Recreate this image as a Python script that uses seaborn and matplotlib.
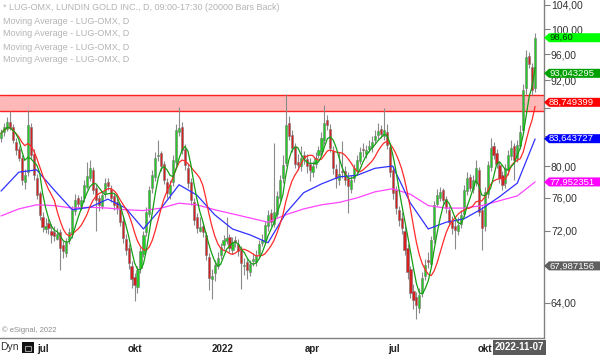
import matplotlib
matplotlib.use("Agg")
import matplotlib.pyplot as plt
from matplotlib.patches import Polygon, Rectangle
from matplotlib.ticker import FixedLocator, FuncFormatter, NullLocator
import numpy as np
import pandas as pd
import seaborn as sns

# LUG-OMX, one candle = 2 trading days, late May 2021 .. 2022-11-07
opens = [83.8, 84.6, 85.0, 86.0, 85.3, 83.2, 82.3, 81.0, 78.0, 79.2,
         85.2, 81.6, 78.5, 76.5, 73.6, 72.2, 72.9, 72.0, 71.8, 71.0,
         71.8, 70.3, 69.4, 70.9, 71.6, 74.3, 75.9, 75.0, 75.9, 77.3,
         78.5, 79.5, 77.2, 75.9, 75.0, 76.5, 77.9, 77.1, 76.2, 75.4,
         74.9, 73.2, 71.0, 70.0, 68.0, 66.8, 65.7, 67.8, 69.3, 71.8,
         74.0, 77.2, 78.6, 81.3, 81.7, 80.2, 78.0, 76.4, 77.9, 80.5,
         84.6, 85.3, 82.3, 79.8, 78.0, 75.5, 73.6, 72.0, 72.6, 71.5,
         69.0, 66.5, 67.2, 68.0, 69.2, 70.3, 70.8, 71.3, 69.8, 70.9,
         70.5, 69.8, 68.0, 68.4, 67.3, 68.5, 68.4, 69.3, 70.6, 70.7,
         72.5, 74.1, 72.8, 74.0, 76.0, 78.4, 80.4, 85.8, 84.2, 82.6,
         80.5, 80.0, 81.4, 80.9, 80.2, 79.2, 80.3, 81.4, 82.0, 83.4,
         86.2, 85.0, 82.0, 79.6, 78.2, 79.3, 79.4, 78.5, 77.0, 78.4,
         79.5, 80.6, 82.3, 81.6, 82.3, 82.5, 83.4, 84.2, 85.0, 84.0,
         84.5, 82.5, 79.5, 76.9, 74.5, 73.5, 72.0, 70.0, 67.6, 65.3,
         64.6, 63.5, 65.0, 66.9, 68.6, 68.2, 71.0, 75.2, 76.0, 76.9,
         75.8, 74.5, 73.2, 72.6, 72.0, 72.8, 74.0, 76.8, 78.6, 77.0,
         78.0, 79.5, 74.5, 72.5, 76.4, 79.9, 82.6, 81.7, 80.1, 78.8,
         77.8, 79.5, 81.3, 82.6, 81.0, 82.6, 84.8, 90.8, 95.7, 94.0,
         90.8]
highs = [85.0, 85.8, 86.6, 87.5, 85.6, 83.8, 82.6, 81.4, 79.6, 87.6,
         85.8, 82.2, 79.0, 76.8, 74.2, 73.5, 73.4, 72.8, 72.5, 72.3,
         72.2, 70.8, 71.2, 72.3, 75.0, 76.4, 76.3, 76.2, 78.2, 80.5,
         80.8, 79.9, 77.6, 76.3, 76.8, 78.4, 78.5, 77.6, 76.5, 75.9,
         75.3, 73.6, 71.6, 70.4, 68.5, 67.2, 68.0, 70.1, 72.0, 74.8,
         77.5, 79.5, 81.8, 83.4, 82.0, 80.6, 78.5, 78.2, 81.5, 85.6,
         88.1, 85.9, 82.9, 80.3, 78.4, 76.0, 74.1, 73.6, 73.0, 71.9,
         69.4, 67.6, 68.6, 69.5, 70.6, 71.5, 73.6, 71.6, 71.3, 71.4,
         71.0, 70.2, 68.9, 68.9, 68.6, 69.4, 69.8, 70.9, 71.6, 73.2,
         74.5, 74.6, 83.0, 76.8, 78.8, 81.5, 90.0, 86.8, 84.9, 83.1,
         81.6, 82.6, 82.0, 81.6, 81.0, 80.7, 81.9, 82.7, 84.5, 88.3,
         86.9, 85.6, 82.6, 80.3, 81.9, 83.3, 80.0, 79.2, 78.8, 80.3,
         81.4, 82.5, 83.0, 82.8, 83.5, 84.0, 84.9, 85.8, 85.5, 88.0,
         85.6, 83.0, 80.0, 77.5, 75.0, 74.2, 72.6, 70.4, 68.0, 66.0,
         65.2, 65.6, 67.3, 68.8, 69.5, 71.4, 75.6, 77.0, 77.3, 77.2,
         76.2, 75.0, 73.7, 73.4, 73.6, 74.5, 77.6, 79.2, 79.0, 78.8,
         80.8, 79.9, 75.0, 77.3, 80.6, 83.7, 83.2, 82.2, 80.6, 79.3,
         80.3, 82.1, 83.5, 83.1, 83.4, 85.5, 91.5, 96.7, 96.4, 94.6,
         99.4]
lows = [83.2, 84.0, 84.7, 84.8, 83.0, 81.5, 80.6, 77.6, 77.0, 78.7,
        80.9, 78.2, 75.8, 73.3, 71.8, 71.7, 71.6, 70.6, 70.8, 70.9,
        67.5, 68.9, 69.0, 70.4, 71.2, 73.9, 74.8, 74.5, 75.5, 77.0,
        78.1, 76.4, 72.0, 74.4, 74.6, 76.0, 76.9, 75.5, 74.5, 74.0,
        72.5, 70.6, 69.2, 67.6, 65.6, 64.2, 65.1, 67.2, 69.0, 71.4,
        73.6, 76.6, 78.1, 80.6, 79.4, 77.7, 75.9, 75.8, 77.4, 80.1,
        84.0, 81.6, 79.5, 77.2, 75.1, 72.7, 71.7, 71.8, 71.3, 68.6,
        65.4, 64.4, 66.3, 67.6, 68.8, 69.9, 70.4, 69.5, 69.3, 70.1,
        69.1, 65.5, 67.0, 66.5, 66.9, 68.0, 68.0, 68.9, 70.2, 70.4,
        72.0, 72.5, 72.4, 73.6, 75.6, 77.8, 80.0, 83.4, 81.8, 79.7,
        79.5, 79.4, 80.2, 79.1, 78.1, 78.6, 79.7, 81.0, 81.4, 82.9,
        84.8, 81.9, 79.0, 77.2, 77.6, 78.4, 77.6, 74.1, 76.5, 77.9,
        79.0, 80.2, 81.2, 81.0, 81.8, 81.9, 82.9, 83.6, 83.7, 83.4,
        82.3, 78.6, 75.8, 74.0, 72.6, 71.6, 69.2, 66.6, 64.5, 63.4,
        62.3, 63.0, 64.6, 66.4, 67.8, 67.9, 70.6, 74.9, 75.6, 75.1,
        74.1, 72.5, 71.6, 69.9, 71.5, 72.3, 73.6, 76.3, 76.8, 76.6,
        77.5, 73.8, 69.8, 72.0, 76.0, 79.4, 80.9, 79.8, 77.8, 76.9,
        77.2, 78.9, 80.8, 78.2, 80.5, 82.2, 84.3, 90.0, 93.8, 89.8,
        90.2]
closes = [84.4, 85.2, 85.9, 85.1, 83.5, 82.1, 81.1, 78.2, 78.8, 85.5,
          81.4, 78.8, 76.3, 73.9, 72.4, 72.6, 72.3, 71.5, 71.4, 71.6,
          70.0, 69.6, 70.7, 71.8, 74.5, 75.7, 75.2, 75.7, 77.6, 78.7,
          79.7, 76.9, 75.7, 75.1, 76.3, 77.8, 77.4, 76.0, 75.1, 74.7,
          73.0, 71.2, 69.8, 68.3, 66.5, 65.9, 67.5, 69.6, 71.5, 74.2,
          76.9, 78.8, 81.1, 81.5, 80.0, 78.2, 76.6, 77.6, 80.8, 84.8,
          85.1, 82.1, 80.1, 77.8, 75.7, 73.3, 72.3, 72.4, 71.8, 69.2,
          66.7, 66.9, 68.1, 68.9, 70.1, 70.9, 71.2, 70.0, 70.7, 70.7,
          69.6, 68.3, 68.1, 67.5, 68.2, 68.7, 69.1, 70.4, 70.9, 72.7,
          73.9, 73.0, 74.2, 76.2, 78.2, 80.1, 85.5, 84.0, 82.4, 80.3,
          80.1, 81.1, 81.1, 80.0, 79.5, 80.0, 81.1, 82.1, 83.7, 85.8,
          85.5, 82.4, 79.7, 78.5, 79.0, 79.2, 78.2, 77.4, 78.2, 79.7,
          80.8, 81.8, 82.1, 82.1, 82.7, 83.2, 84.0, 84.7, 84.3, 84.8,
          82.8, 79.2, 76.6, 74.7, 73.3, 72.3, 69.8, 67.3, 65.1, 64.3,
          63.8, 64.8, 66.7, 68.1, 68.4, 70.9, 75.1, 76.3, 76.7, 75.7,
          74.7, 73.0, 72.3, 72.1, 72.7, 73.9, 76.9, 78.5, 77.2, 78.2,
          79.7, 74.2, 72.3, 76.7, 80.1, 82.4, 81.5, 80.3, 78.5, 77.6,
          79.7, 81.5, 82.4, 80.8, 82.8, 84.5, 90.5, 95.5, 94.5, 90.5,
          98.6]

ma_step = 6
ma_blue = [76.8, 79.2, 79.5, 76.9, 74.5, 74.8, 75.8, 74.7, 72.2, 74.7,
           77.6, 76.3, 73.9, 72.2, 71.5, 70.6, 74.1, 76.6, 77.7, 78.6,
           78.8, 79.7, 80.0, 75.3, 72.2, 73.0, 73.4, 74.6, 76.1, 77.8,
           83.6]
ma_magenta = [73.75, 74.6, 75.1, 75.0, 74.7, 74.8, 74.7, 74.5, 74.4, 74.7,
              75.3, 75.1, 74.5, 74.0, 73.5, 73.0, 73.9, 74.6, 75.1, 75.4,
              75.95, 76.7, 77.1, 76.4, 75.0, 74.7, 74.7, 75.0, 75.6, 76.2,
              77.95]
# fast moving averages (length in candles)
ma_green_len = 5
ma_red_len = 10

band_low, band_high = 87.5, 89.8

tag_values = [98.60, 93.043295, 88.749399, 83.643727, 77.952351, 67.987156]
tag_texts = ["98,60", "93,043295", "88,749399", "83,643727", "77,952351", "67,987156"]
tag_colors = ["#00ff00", "#00a000", "#ff0000", "#0000ff", "#ff00ff", "#5f5f5f"]
tag_text_colors = ["#003300", "white", "white", "white", "white", "white"]

x_tick_pos = [14.2, 45.2, 74.8, 104.8, 132.5, 163.1]
x_tick_labels = ["jul", "okt", "2022", "apr", "jul", "okt"]
y_ticks = [64, 68, 72, 76, 80, 84, 88, 92, 96, 100, 104]
y_hidden = [68, 84, 88]   # labels covered by the price tags

header = "* LUG-OMX, LUNDIN GOLD INC., D, 09:00-17:30 (20000 Bars Back)"
ma_label = "Moving Average - LUG-OMX, D"

#--------------------------------------------------------------------
sns.set_style("white")
plt.rcParams["font.family"] = ["Liberation Sans", "DejaVu Sans"]

df = pd.DataFrame({"o": opens, "h": highs, "l": lows, "c": closes})
df["i"] = np.arange(len(df))
df["ma_g"] = df["c"].rolling(ma_green_len, min_periods=1).mean()
df["ma_r"] = df["c"].rolling(ma_red_len, min_periods=1).mean()
slow = pd.DataFrame({"i": np.arange(0, len(df), ma_step),
                     "blue": ma_blue, "mag": ma_magenta})

W, H = 600, 355
fig = plt.figure(figsize=(W / 100, H / 100), dpi=100)
ax = fig.add_axes([0, 17 / H, 544 / W, 338 / H])
ax.set_yscale("log")
ax.set_ylim(60.45, 104.85)
ax.set_xlim(-0.34, 183.0)

# resistance band
ax.axhspan(band_low, band_high, facecolor="#ffb8b8", lw=0, zorder=1)
ax.axhline(band_low, color="#ff2020", lw=1.0, zorder=1.5)
ax.axhline(band_high, color="#ff2020", lw=1.0, zorder=1.5)

# candles
ax.vlines(df["i"], df["l"], df["h"], color="#8a8a8a", lw=0.8, zorder=2)
up = df["c"] >= df["o"]
dn = ~up
ax.bar(df["i"][up], (df["c"] - df["o"])[up], bottom=df["o"][up], width=0.72,
       color="#22cc22", edgecolor="#7a7a7a", lw=0.4, zorder=3)
ax.bar(df["i"][dn], (df["o"] - df["c"])[dn], bottom=df["c"][dn], width=0.72,
       color="#d42020", edgecolor="#7a7a7a", lw=0.4, zorder=3)

# moving averages
sns.lineplot(data=slow, x="i", y="mag", color="#ff44ff", lw=0.9, ax=ax, zorder=4)
sns.lineplot(data=slow, x="i", y="blue", color="#3030ff", lw=0.9, ax=ax, zorder=4)
sns.lineplot(data=df, x="i", y="ma_r", color="#ff2a2a", lw=0.9, ax=ax, zorder=4)
sns.lineplot(data=df, x="i", y="ma_g", color="#14a014", lw=0.9, ax=ax, zorder=4)
ax.set_xlabel("")
ax.set_ylabel("")

# axes styling
for s in ["top", "left"]:
    ax.spines[s].set_visible(False)
for s in ["right", "bottom"]:
    ax.spines[s].set_color("#808080")
    ax.spines[s].set_linewidth(1.0)


def price_fmt(v, p):
    if round(v) in y_hidden:
        return ""
    return f"{v:.2f}".replace(".", ",")


ax.yaxis.tick_right()
ax.yaxis.set_major_locator(FixedLocator(y_ticks))
ax.yaxis.set_minor_locator(NullLocator())
ax.yaxis.set_major_formatter(FuncFormatter(price_fmt))
ax.tick_params(axis="y", length=4, width=0.8, color="#808080", labelsize=7.5,
               labelcolor="#333333", pad=1)

ax.set_xticks(x_tick_pos)
ax.set_xticklabels(x_tick_labels)
ax.xaxis.set_minor_locator(NullLocator())
ax.tick_params(axis="x", length=2, width=0.8, color="#808080", labelsize=7,
               labelcolor="#222222", pad=2)
for t in ax.get_xticklabels():
    t.set_fontweight("bold")

# price tags on the right
hh = 4.5
for val, txt, fc, tc in zip(tag_values, tag_texts, tag_colors, tag_text_colors):
    yc = ax.transData.transform((0, val))[1]
    pts = [(544, yc), (549, yc + hh), (600, yc + hh), (600, yc - hh), (549, yc - hh)]
    fig.add_artist(Polygon(pts, closed=True, transform=None, facecolor=fc,
                           edgecolor=fc, lw=0, zorder=5))
    fig.text(549 / W, yc / H, txt, fontsize=6.8, color=tc, ha="left", va="center", zorder=6)

# header texts
fig.text(3 / W, 1 - 8 / H, header, fontsize=6.5, color="#b4b4b4", va="center")
for k in range(4):
    fig.text(3 / W, 1 - (21 + 13 * k) / H, ma_label, fontsize=6.5, color="#b4b4b4", va="center")

fig.text(2 / W, 1 - 330 / H, "\u00a9 eSignal, 2022", fontsize=5.5, color="#8c8c8c", va="center")

# bottom bar
fig.text(0, 1 - 347 / H, "Dyn", fontsize=7.5, color="#333333", va="center")
fig.add_artist(Rectangle((22 / W, 1 - 353 / H), 12 / W, 11 / H, transform=fig.transFigure,
                         facecolor="#111111", edgecolor="none"))
fig.add_artist(Rectangle((25 / W, 1 - 351 / H), 6 / W, 5 / H, transform=fig.transFigure,
                         facecolor="none", edgecolor="#9a9a9a", lw=0.8))
fig.text(495 / W, 1 - 347.5 / H, "2022-11-07", fontsize=7, fontweight="bold", color="white",
         va="center", bbox=dict(facecolor="#5a5a5a", edgecolor="none", pad=1.5))

fig.savefig("out.png", dpi=100)
